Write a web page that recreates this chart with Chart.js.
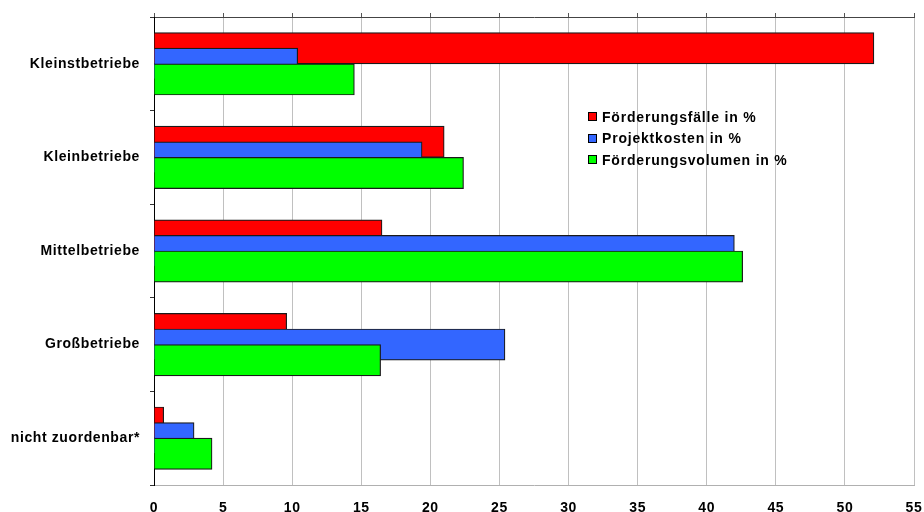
<!DOCTYPE html>
<html><head><meta charset="utf-8">
<script src="https://cdn.jsdelivr.net/npm/chart.js@4/dist/chart.umd.min.js"></script>
<style>
html,body{margin:0;padding:0;background:#fff;}
#wrap{position:relative;width:924px;height:512px;}
#legend{position:absolute;left:588px;top:106px;font:bold 14px "Liberation Sans",Arial,sans-serif;letter-spacing:0.8px;color:#000;}
.item{display:flex;align-items:center;height:21.5px;white-space:nowrap;}
.box{width:7px;height:7px;border:1px solid #000;margin-right:5px;flex:none;}
</style></head><body>
<div id="wrap"><canvas id="c" width="924" height="512"></canvas><div id="legend"></div></div>
<script>
const categories = ['Kleinstbetriebe', 'Kleinbetriebe', 'Mittelbetriebe', 'Großbetriebe', 'nicht zuordenbar*'];
const seriesLabels = ['Förderungsfälle in %', 'Projektkosten in %', 'Förderungsvolumen in %'];
const foerderungsfaelle = [52.1, 21.0, 16.5, 9.6, 0.7];
const projektkosten = [10.4, 19.4, 42.0, 25.4, 2.9];
const foerderungsvolumen = [14.5, 22.4, 42.6, 16.4, 4.2];
const xMin = 0, xMax = 55, xStep = 5;
const seriesColors = ['#FF0000', '#3366FF', '#00FF00'];

const seriesValues = [foerderungsfaelle, projektkosten, foerderungsvolumen];
const labelFont = { family: '"Liberation Sans", Arial, sans-serif', size: 14, weight: 'bold' };

const drawOrderPlugin = {
  id: 'drawOrder',
  beforeDraw(chart) { chart.ctx.letterSpacing = '0.6px'; },
  beforeDatasetDraw() { return false; },
  afterDatasetsDraw(chart) {
    for (let i = 0; i < chart.data.datasets.length; i++) {
      const meta = chart.getDatasetMeta(i);
      if (meta.visible) meta.controller.draw();
    }
  }
};

const chart = new Chart(document.getElementById('c'), {
  type: 'bar',
  data: {
    labels: categories,
    datasets: seriesValues.map((vals, i) => ({
      label: seriesLabels[i],
      data: vals,
      backgroundColor: seriesColors[i],
      borderColor: '#1a1a1a',
      borderWidth: 1.2
    }))
  },
  plugins: [drawOrderPlugin],
  options: {
    responsive: false,
    animation: false,
    indexAxis: 'y',
    layout: { padding: { left: 0, right: 10, top: 0, bottom: 0 } },
    datasets: { bar: { categoryPercentage: 0.5, barPercentage: 2.0 } },
    plugins: { legend: { display: false }, tooltip: { enabled: false } },
    scales: {
      x: {
        type: 'linear', position: 'bottom', min: xMin, max: xMax,
        ticks: { stepSize: xStep, color: '#000', font: labelFont, padding: 15 },
        grid: { color: '#c0c0c0', drawTicks: false },
        border: { color: '#b0b0b0' },
        afterFit(s) { s.height = 27; s.paddingLeft = 0; s.paddingRight = 0; }
      },
      x2: {
        type: 'linear', position: 'top', min: xMin, max: xMax,
        ticks: { display: false, stepSize: xStep },
        grid: { drawOnChartArea: false, drawTicks: true, tickLength: 4, color: '#555' },
        border: { color: '#444' },
        afterFit(s) { s.height = 17; s.paddingLeft = 0; s.paddingRight = 0; }
      },
      y: {
        type: 'category',
        grid: { drawOnChartArea: false, drawTicks: true, tickLength: 4, color: '#333', offset: true },
        border: { color: '#000' },
        ticks: { color: '#000', font: labelFont, padding: 10 },
        afterFit(s) { s.width = 154; s.paddingTop = 0; s.paddingBottom = 0; }
      }
    }
  }
});

const legend = document.getElementById('legend');
chart.data.datasets.forEach(ds => {
  const item = document.createElement('div');
  item.className = 'item';
  const box = document.createElement('span');
  box.className = 'box';
  box.style.background = ds.backgroundColor;
  const txt = document.createElement('span');
  txt.textContent = ds.label;
  item.appendChild(box);
  item.appendChild(txt);
  legend.appendChild(item);
});
</script>
</body></html>
